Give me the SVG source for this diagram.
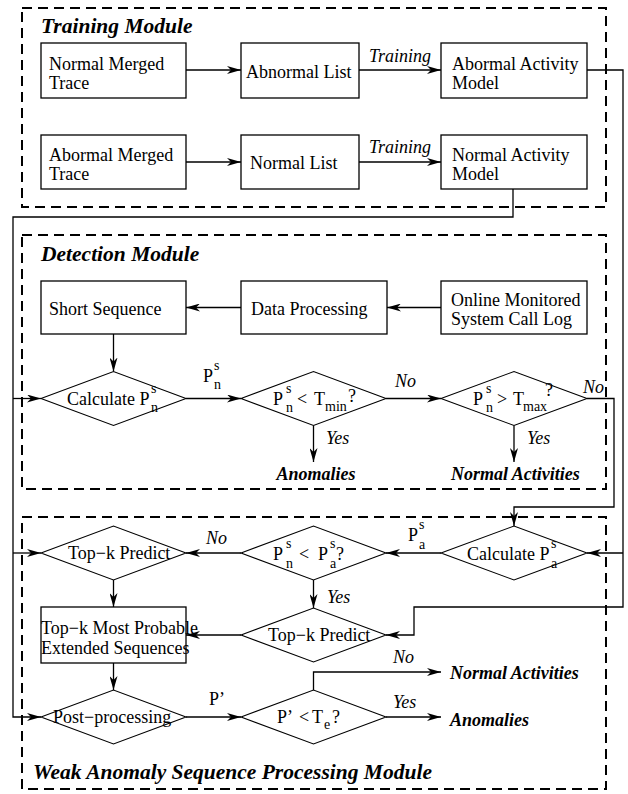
<svg xmlns="http://www.w3.org/2000/svg" width="628" height="794" viewBox="0 0 628 794">
<defs>
<marker id="ah" markerWidth="14" markerHeight="8" refX="14" refY="4" orient="auto" markerUnits="userSpaceOnUse">
<path d="M0,0 L14,4 L0,8 L4,4 Z" fill="#000"/>
</marker>
<style>
.mod{fill:none;stroke:#000;stroke-width:2;stroke-dasharray:10 6}
.box{fill:#fff;stroke:#000;stroke-width:1.3}
.dia{fill:#fff;stroke:#000;stroke-width:1.1}
.ln{fill:none;stroke:#000;stroke-width:1.3}
.arr{fill:none;stroke:#000;stroke-width:1.3;marker-end:url(#ah)}
text{font-family:"Liberation Serif","Times New Roman",serif;fill:#000}
.t{font-size:18px}
.s{font-size:14px}
.i{font-size:18px;font-style:italic}
.bi{font-size:18px;font-style:italic;font-weight:bold}
.h{font-size:21.5px;font-style:italic;font-weight:bold}
</style>
</defs>
<rect fill="#fff" x="0" y="0" width="628" height="794"/>

<g id="modules">
<rect class="mod" x="22" y="8" width="584" height="199"/>
<text class="h" x="41" y="33">Training Module</text>
<rect class="mod" x="22" y="235" width="584" height="254"/>
<text class="h" x="41" y="261">Detection Module</text>
<rect class="mod" x="22" y="517" width="584" height="272"/>
<text class="h" x="33" y="779">Weak Anomaly Sequence Processing Module</text>
</g>

<g id="connectors">
<path class="arr" d="M186,70 H241"/>
<path class="arr" d="M359,70 H441"/>
<text class="i" x="369" y="62">Training</text>
<path class="arr" d="M186,162 H241"/>
<path class="arr" d="M359,162 H441"/>
<text class="i" x="369" y="153">Training</text>
<path class="arr" d="M587,70 H623 V607 H414 V635 H386"/>
<path class="arr" d="M623,553 H587"/>
<path class="arr" d="M513,189 V217 H13 V717 H41"/>
<path class="arr" d="M13,398.5 H41"/>
<path class="arr" d="M13,553 H41"/>
<path class="arr" d="M441,307.5 H387"/>
<path class="arr" d="M241,307.5 H186"/>
<path class="arr" d="M113.5,334 V371.5"/>
<path class="arr" d="M186,398.5 H241"/>
<text class="t" x="203" y="382">P</text><text class="s" x="214" y="370">s</text><text class="s" x="214" y="389">n</text>
<path class="arr" d="M386,398.5 H441"/>
<text class="i" x="395" y="387">No</text>
<path class="arr" d="M313.5,425.5 V462"/>
<text class="i" x="326" y="444">Yes</text>
<text class="bi" x="316" y="480" text-anchor="middle">Anomalies</text>
<path class="arr" d="M514,425.5 V462"/>
<text class="i" x="527" y="444">Yes</text>
<text class="bi" x="451" y="480">Normal Activities</text>
<path class="arr" d="M587,398.5 H614 V507 H514 V526"/>
<text class="i" x="583" y="393">No</text>
<path class="arr" d="M441,553 H386"/>
<text class="t" x="408" y="541">P</text><text class="s" x="419" y="529">s</text><text class="s" x="419" y="549">a</text>
<path class="arr" d="M241,553 H186"/>
<text class="i" x="206" y="544">No</text>
<path class="arr" d="M113.5,580 V607"/>
<path class="arr" d="M313.5,580 V608"/>
<text class="i" x="327" y="603">Yes</text>
<path class="arr" d="M241,635 H186"/>
<path class="arr" d="M113.5,663 V690"/>
<path class="arr" d="M186,717 H241"/>
<text class="t" x="209" y="705">P’</text>
<path class="arr" d="M313.5,690 V672 H441"/>
<text class="i" x="393" y="663">No</text>
<text class="bi" x="450" y="679">Normal Activities</text>
<path class="arr" d="M386,717 H441"/>
<text class="i" x="393" y="708">Yes</text>
<text class="bi" x="450" y="726">Anomalies</text>
</g>

<g id="normal-merged-trace">
<rect class="box" x="41" y="43" width="145" height="55"/>
<text class="t" x="49" y="70">Normal Merged</text>
<text class="t" x="49" y="89">Trace</text>
</g>
<g id="abnormal-list">
<rect class="box" x="241" y="43" width="118" height="55"/>
<text class="t" x="246" y="78">Abnormal List</text>
</g>
<g id="abnormal-activity-model">
<rect class="box" x="441" y="43" width="146" height="55"/>
<text class="t" x="452" y="70">Abormal Activity</text>
<text class="t" x="452" y="89">Model</text>
</g>
<g id="abnormal-merged-trace">
<rect class="box" x="41" y="135" width="145" height="54"/>
<text class="t" x="49" y="161">Abormal Merged</text>
<text class="t" x="49" y="180">Trace</text>
</g>
<g id="normal-list">
<rect class="box" x="241" y="135" width="118" height="54"/>
<text class="t" x="250" y="169">Normal List</text>
</g>
<g id="normal-activity-model">
<rect class="box" x="441" y="135" width="146" height="54"/>
<text class="t" x="452" y="161">Normal Activity</text>
<text class="t" x="452" y="180">Model</text>
</g>

<g id="short-sequence">
<rect class="box" x="41" y="281" width="145" height="53"/>
<text class="t" x="49" y="315">Short Sequence</text>
</g>
<g id="data-processing">
<rect class="box" x="241" y="281" width="146" height="53"/>
<text class="t" x="251" y="315">Data Processing</text>
</g>
<g id="online-log">
<rect class="box" x="441" y="281" width="146" height="53"/>
<text class="t" x="451" y="306">Online Monitored</text>
<text class="t" x="451" y="325">System Call Log</text>
</g>

<g id="calc-pn">
<polygon class="dia" points="41,398.5 113.5,371.5 186,398.5 113.5,425.5"/>
<text class="t" x="67" y="405">Calculate P</text><text class="s" x="151" y="393">s</text><text class="s" x="151" y="412">n</text>
</g>
<g id="pn-lt-tmin">
<polygon class="dia" points="241,398.5 313.5,371.5 386,398.5 313.5,425.5"/>
<text class="t" x="273" y="405">P</text><text class="s" x="286" y="393">s</text><text class="s" x="286" y="412">n</text>
<text class="t" x="297" y="405">&lt;</text>
<text class="t" x="314" y="405">T</text><text class="s" x="325" y="411">min</text><text class="t" x="348" y="402">?</text>
</g>
<g id="pn-gt-tmax">
<polygon class="dia" points="441,398.5 514,371.5 587,398.5 514,425.5"/>
<text class="t" x="473" y="405">P</text><text class="s" x="486" y="393">s</text><text class="s" x="486" y="412">n</text>
<text class="t" x="497" y="405">&gt;</text>
<text class="t" x="513" y="405">T</text><text class="s" x="523" y="411">max</text><text class="t" x="545" y="396">?</text>
</g>

<g id="topk-predict-1">
<polygon class="dia" points="41,553 113.5,526 186,553 113.5,580"/>
<text class="t" x="68" y="559">Top−k Predict</text>
</g>
<g id="pn-lt-pa">
<polygon class="dia" points="241,553 313.5,526 386,553 313.5,580"/>
<text class="t" x="273" y="560">P</text><text class="s" x="286" y="548">s</text><text class="s" x="286" y="568">n</text>
<text class="t" x="299" y="560">&lt;</text>
<text class="t" x="318" y="560">P</text><text class="s" x="330" y="548">s</text><text class="s" x="330" y="568">a</text>
<text class="t" x="336" y="560">?</text>
</g>
<g id="calc-pa">
<polygon class="dia" points="441,553 514,526 587,553 514,580"/>
<text class="t" x="467" y="560">Calculate P</text><text class="s" x="551" y="548">s</text><text class="s" x="551" y="568">a</text>
</g>
<g id="topk-predict-2">
<polygon class="dia" points="241,635 313.5,608 386,635 313.5,662"/>
<text class="t" x="268" y="641">Top−k Predict</text>
</g>
<g id="topk-sequences">
<rect class="box" x="41" y="607" width="145" height="56"/>
<text class="t" x="41" y="634">Top−k Most Probable</text>
<text class="t" x="41" y="654">Extended Sequences</text>
</g>
<g id="post-processing">
<polygon class="dia" points="41,717 113.5,690 186,717 113.5,744"/>
<text class="t" x="53" y="723">Post−processing</text>
</g>
<g id="p-lt-te">
<polygon class="dia" points="241,717 313.5,690 386,717 313.5,744"/>
<text class="t" x="277" y="723">P’</text>
<text class="t" x="299" y="723">&lt;</text>
<text class="t" x="312" y="723">T</text><text class="s" x="324" y="729">e</text>
<text class="t" x="332" y="723">?</text>
</g>
</svg>
